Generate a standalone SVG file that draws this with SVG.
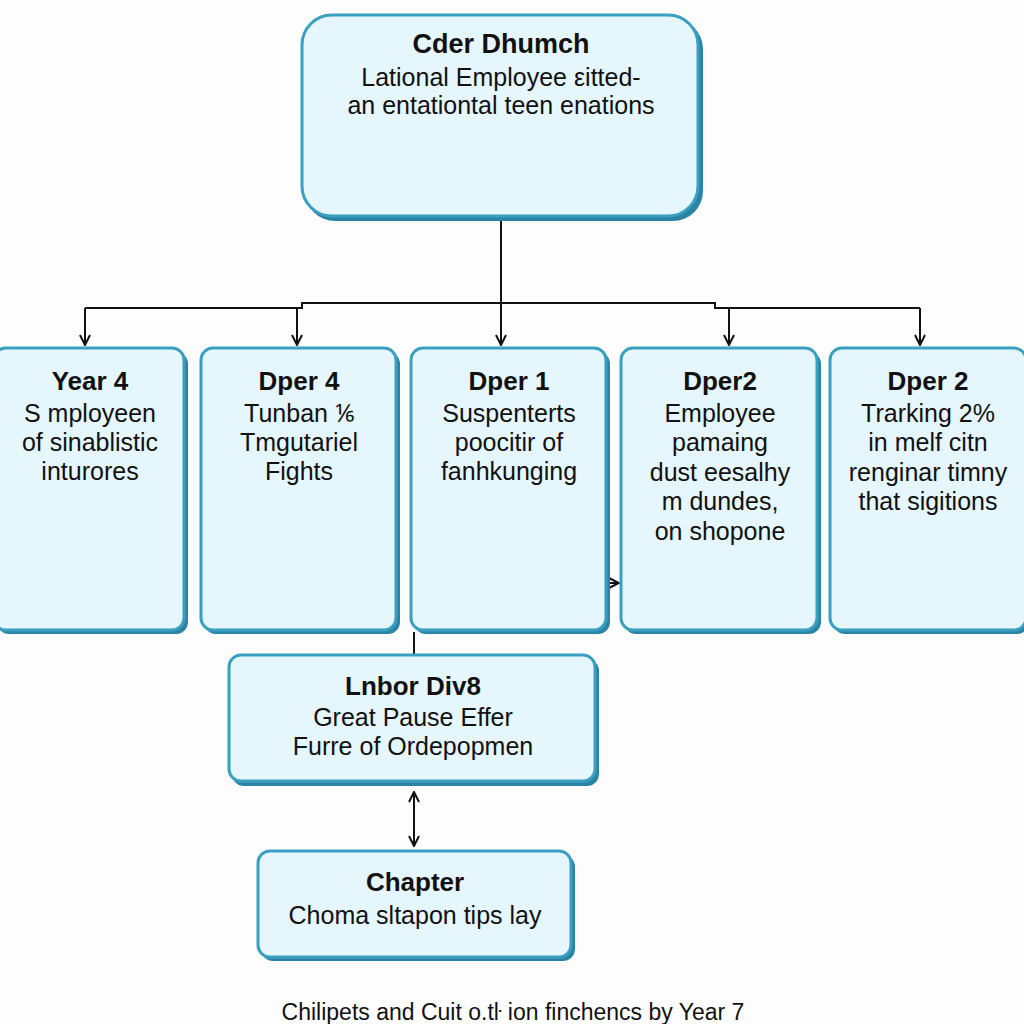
<svg xmlns="http://www.w3.org/2000/svg" width="1024" height="1024" viewBox="0 0 1024 1024">
<defs>
<style>
.sh{fill:#2b84a6;}
.bx{fill:#e5f6fc;stroke:#3a9fc0;stroke-width:3;}
.t{font-family:"Liberation Sans",Arial,sans-serif;font-size:26px;font-weight:bold;fill:#111;text-anchor:middle;}
.b{font-family:"Liberation Sans",Arial,sans-serif;font-size:25px;fill:#111;text-anchor:middle;}
.c{stroke:#111;stroke-width:2;fill:none;}
.cap{font-family:"Liberation Sans",Arial,sans-serif;font-size:23px;fill:#111;text-anchor:middle;}
</style>
<marker id="ah" viewBox="0 0 12 12" refX="11" refY="6" markerWidth="12" markerHeight="12" markerUnits="userSpaceOnUse" orient="auto-start-reverse">
<path d="M1,1 L11,6 L1,11" fill="none" stroke="#111" stroke-width="2"/>
</marker>
</defs>
<rect width="1024" height="1024" fill="#fdfdfd"/>
<g id="connectors">
<path class="c" d="M501,218 V345" marker-end="url(#ah)"/>
<path class="c" d="M85,308 H302 V303 H715 V308 H920"/>
<path class="c" d="M85,308 V345" marker-end="url(#ah)"/>
<path class="c" d="M297,308 V345" marker-end="url(#ah)"/>
<path class="c" d="M729,308 V345" marker-end="url(#ah)"/>
<path class="c" d="M920,308 V345" marker-end="url(#ah)"/>
<path class="c" d="M414,632 V655"/>
<path class="c" d="M607,583 H619" marker-end="url(#ah)"/>
<path class="c" d="M414,792 V846" marker-start="url(#ah)" marker-end="url(#ah)"/>
</g>
<g id="top">
<rect class="sh" x="305" y="19" width="398" height="202" rx="30"/>
<rect class="bx" x="302" y="15" width="396" height="201" rx="30"/>
<text class="t" x="501" y="53" style="font-size:27px">Cder Dhumch</text>
<text class="b" x="501" y="86">Lational Employee εitted-</text>
<text class="b" x="501" y="114">an entationtal teen enations</text>
</g>
<g id="n1">
<rect class="sh" x="-3" y="352" width="191" height="282" rx="12"/>
<rect class="bx" x="-6" y="348" width="190" height="282" rx="12"/>
<text class="t" x="90" y="390">Year 4</text>
<text class="b" x="90" y="422">S mployeen</text>
<text class="b" x="90" y="451">of sinablistic</text>
<text class="b" x="90" y="480">inturores</text>
</g>
<g id="n2">
<rect class="sh" x="204" y="352" width="196" height="282" rx="12"/>
<rect class="bx" x="201" y="348" width="195" height="282" rx="12"/>
<text class="t" x="299" y="390">Dper 4</text>
<text class="b" x="299" y="422">Tunban ⅙</text>
<text class="b" x="299" y="451">Tmgutariel</text>
<text class="b" x="299" y="480">Fights</text>
</g>
<g id="n3">
<rect class="sh" x="414" y="352" width="196" height="282" rx="12"/>
<rect class="bx" x="411" y="348" width="195" height="282" rx="12"/>
<text class="t" x="509" y="390">Dper 1</text>
<text class="b" x="509" y="422">Suspenterts</text>
<text class="b" x="509" y="451">poocitir of</text>
<text class="b" x="509" y="480">fanhkunging</text>
</g>
<g id="n4">
<rect class="sh" x="624" y="352" width="197" height="282" rx="12"/>
<rect class="bx" x="621" y="348" width="196" height="282" rx="12"/>
<text class="t" x="720" y="390">Dper2</text>
<text class="b" x="720" y="422">Employee</text>
<text class="b" x="720" y="451">pamaing</text>
<text class="b" x="720" y="481">dust eesalhy</text>
<text class="b" x="720" y="510">m dundes,</text>
<text class="b" x="720" y="540">on shopone</text>
</g>
<g id="n5">
<rect class="sh" x="833" y="352" width="196" height="282" rx="12"/>
<rect class="bx" x="830" y="348" width="196" height="282" rx="12"/>
<text class="t" x="928" y="390">Dper 2</text>
<text class="b" x="928" y="422">Trarking 2%</text>
<text class="b" x="928" y="451">in melf citn</text>
<text class="b" x="928" y="481">renginar timny</text>
<text class="b" x="928" y="510">that sigitions</text>
</g>
<g id="labor">
<rect class="sh" x="232" y="659" width="367" height="127" rx="12"/>
<rect class="bx" x="229" y="655" width="366" height="126" rx="12"/>
<text class="t" x="413" y="695">Lnbor Div8</text>
<text class="b" x="413" y="726">Great Pause Effer</text>
<text class="b" x="413" y="755">Furre of Ordepopmen</text>
</g>
<g id="chapter">
<rect class="sh" x="261" y="855" width="314" height="106" rx="12"/>
<rect class="bx" x="258" y="851" width="313" height="106" rx="12"/>
<text class="t" x="415" y="891">Chapter</text>
<text class="b" x="415" y="924">Choma sltapon tips lay</text>
</g>
<text class="cap" x="513" y="1020">Chilipets and Cuit o.tŀ ion finchencs by Year 7</text>
</svg>
